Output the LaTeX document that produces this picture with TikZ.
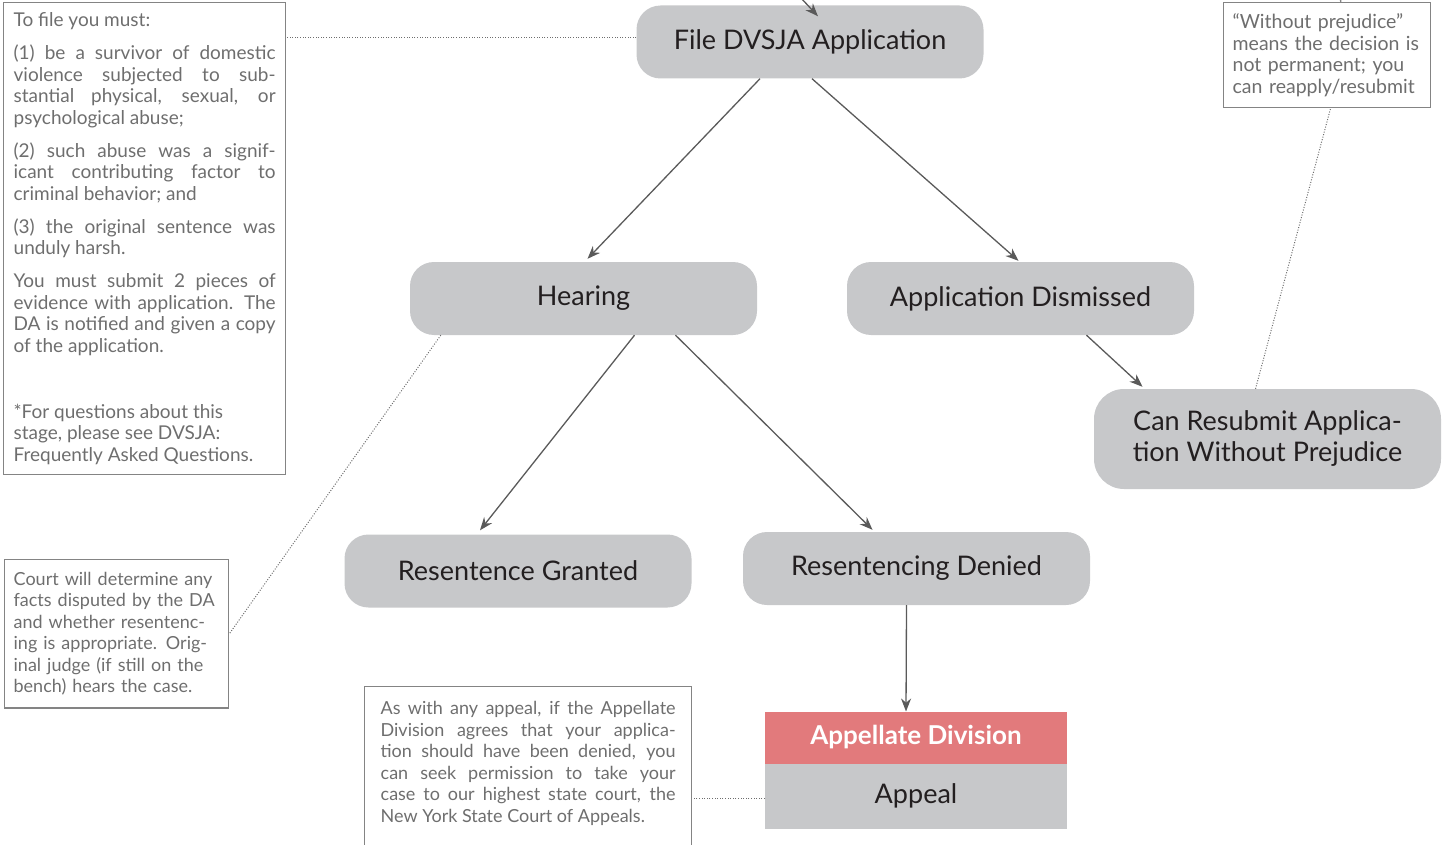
\documentclass[tikz,border=0pt]{standalone}
\usepackage{fontspec}
\setmainfont{Lato}
\usetikzlibrary{positioning,arrows.meta}
\definecolor{boxgray}{HTML}{C7C8CA}
\definecolor{courtred}{HTML}{E27A7C}
\definecolor{linegray}{HTML}{5A5A5A}
\definecolor{notegray}{HTML}{6E6E6E}
\definecolor{labelblack}{HTML}{231F20}

\tikzset{
  stage/.style={fill=boxgray, rounded corners=24pt, minimum width=347pt,
    minimum height=73pt, text=labelblack, align=center,
    font=\fontsize{27}{31}\selectfont},
  courthead/.style={fill=courtred, minimum width=302pt, minimum height=52pt,
    outer sep=0pt, text=white, font=\fontsize{26}{30}\selectfont\bfseries},
  court/.style={fill=boxgray, minimum width=302pt, minimum height=65pt,
    outer sep=0pt, text=labelblack, font=\fontsize{27}{31}\selectfont},
  note/.style={draw=notegray!85, line width=1.3pt, text=notegray,
    font=\fontsize{18}{21.5}\selectfont, anchor=north west},
  flow/.style={draw=linegray, line width=1.3pt,
    -{Stealth[length=13pt,width=10pt]}},
  link/.style={draw=notegray, line width=1pt, dash pattern=on 1pt off 1.6pt}
}

\begin{document}
\begin{tikzpicture}[x=1pt,y=-1pt]
\useasboundingbox (0,0) rectangle (1442,845);

% the stages
\node[stage] (file) at (810,42) {File DVSJA Application};
\node[stage] (hear) at (583.5,298.5) {Hearing};
\node[stage] (dism) at (1020.5,298.5) {Application Dismissed};
\node[stage, minimum height=100pt, rounded corners=30pt] (resub) at (1267.5,439)
  {Can Resubmit Applica-\\tion Without Prejudice};
\node[stage] (grant) at (518,571) {Resentence Granted};
\node[stage] (deny) at (916.5,568.5) {Resentencing Denied};
\node[courthead] (appdiv) at (916,737.5) {Appellate Division};
\node[court, below=0pt of appdiv] (appeal) {Appeal};

% the notes
\node[note, font=\fontsize{19}{21.5}\selectfont, text width=262pt, inner xsep=10pt,
  inner ysep=10pt, align=justify] (reqnote) at (3,2)
  {To file you must:\\[11.5pt]
   (1) be a survivor of domestic\linebreak
   violence subjected to sub-\linebreak
   stantial physical, sexual, or\linebreak
   psychological abuse;\\[11.5pt]
   (2) such abuse was a signif-\linebreak
   icant contributing factor to\linebreak
   criminal behavior; and\\[11.5pt]
   (3) the original sentence was\linebreak
   unduly harsh.\\[11.5pt]
   You must submit 2 pieces of\linebreak
   evidence with application. The\linebreak
   DA is notified and given a copy\linebreak
   of the application.\\[44.5pt]
   *For questions about this\\
   stage, please see DVSJA:\\
   Frequently Asked Questions.};
\node[note, text width=206pt, inner xsep=9pt, inner ysep=12.5pt, align=left] (courtnote) at (4,559)
  {Court will determine any\\
   facts disputed by the DA\\
   and whether resentenc-\\
   ing is appropriate. Orig-\\
   inal judge (if still on the\\
   bench) hears the case.};
\node[note, font=\fontsize{19.5}{21.5}\selectfont, text width=189pt, inner xsep=9pt,
  inner ysep=11pt, align=left] (prejnote) at (1223,2)
  {\char"201C Without prejudice\char"201D\\
   means the decision is\\
   not permanent; you\\
   can reapply/resubmit};
\node[note, text width=295pt, inner xsep=16pt, inner ysep=15pt, align=justify] (appealnote) at (364,686)
  {As with any appeal, if the Appellate\linebreak
   Division agrees that your applica-\linebreak
   tion should have been denied, you\linebreak
   can seek permission to take your\linebreak
   case to our highest state court, the\linebreak
   New York State Court of Appeals.\par\vspace*{40pt}};

% arrows
\coordinate (intop) at (788,-16);
\coordinate (outtop) at (1340,-30);
\draw[flow] (intop) -- ([xshift=8pt,yshift=-11pt]file.north);
\draw[flow] ([xshift=-50pt]file.south) -- ([xshift=4pt,yshift=3pt]hear.north);
\draw[flow] ([xshift=2pt]file.south) -- ([xshift=-2pt,yshift=1pt]dism.north);
\draw[flow] ([xshift=66pt]dism.south) -- ([xshift=-125pt,yshift=2pt]resub.north);
\draw[flow] ([xshift=51pt]hear.south) -- ([xshift=-38pt,yshift=4pt]grant.north);
\draw[flow] ([xshift=92pt]hear.south) -- ([xshift=-44pt,yshift=2pt]deny.north);
\draw[flow] ([xshift=-10pt]deny.south) -- ([xshift=-10pt]appdiv.north);
\draw[draw=notegray!85, line width=1.3pt] ([xshift=13.5pt]prejnote.north) -- (outtop |- 0,-30);

% dotted links to the notes
\draw[link] ([yshift=4pt]file.west) -- ([yshift=4pt]file.west -| reqnote.east);
\draw[link] ([xshift=-12pt]resub.north) -- ([xshift=3.5pt]prejnote.south);
\draw[link] ([xshift=31pt]hear.south west) -- (courtnote.east);
\draw[link] ([yshift=-2pt]appeal.west) -- ([yshift=-2pt]appeal.west -| appealnote.east);
\end{tikzpicture}
\end{document}
